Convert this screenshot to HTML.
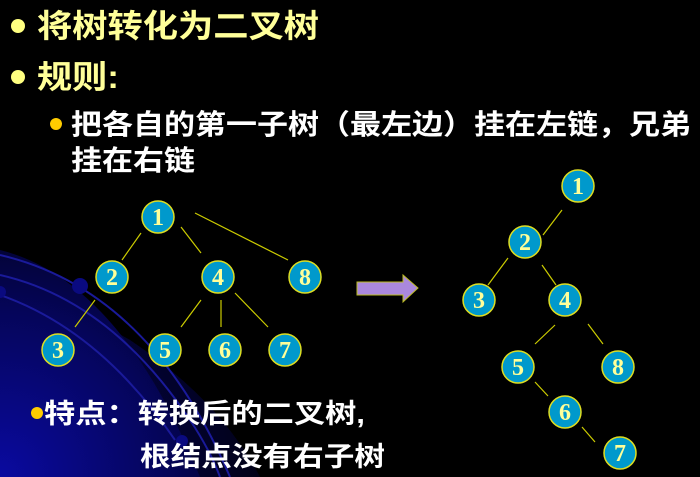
<!DOCTYPE html>
<html><head><meta charset="utf-8"><style>
html,body{margin:0;padding:0;background:#000;}
svg{display:block;}
</style></head><body>
<svg width="700" height="477" viewBox="0 0 700 477" xmlns="http://www.w3.org/2000/svg">
<defs>
<radialGradient id="bg" cx="0" cy="477" r="330" gradientUnits="userSpaceOnUse">
<stop offset="0" stop-color="#0a0aa0"/><stop offset="0.5" stop-color="#05055a"/><stop offset="1" stop-color="#000"/>
</radialGradient>
</defs>
<rect width="700" height="477" fill="#000"/>
<path d="M0 250 Q120 280 200 477 L0 477Z" fill="url(#bg)"/>
<path d="M0 280 Q60 300 130 340 Q220 400 260 477 L0 477Z" fill="url(#bg)" opacity="0.6"/>
<g fill="none" stroke="#1a1a9a" stroke-width="2">
<path d="M0 255 Q150 290 230 477"/>
<path d="M0 275 Q110 300 190 420 Q210 450 220 477"/>
<path d="M0 295 Q100 330 175 440"/>
</g>
<circle cx="80" cy="286" r="8" fill="#0a0a80"/>
<circle cx="0" cy="292" r="6" fill="#0a0a80"/>
<circle cx="182" cy="441" r="6" fill="#0a0a80"/>

<g font-family="Liberation Sans, Noto Sans CJK SC, sans-serif" font-weight="bold">
<circle cx="18" cy="26" r="7" fill="#ffff80"/>
<text x="37" y="37" font-size="32" fill="#ffff99" textLength="282" lengthAdjust="spacingAndGlyphs">将树转化为二叉树</text>
<circle cx="18" cy="77" r="7" fill="#ffff80"/>
<text x="37" y="88" font-size="32" fill="#ffff99" textLength="82" lengthAdjust="spacingAndGlyphs">规则:</text>
<circle cx="56" cy="124" r="6" fill="#ffcc00"/>
<text x="71" y="134" font-size="28" fill="#fff" textLength="620" lengthAdjust="spacingAndGlyphs">把各自的第一子树（最左边）挂在左链，兄弟</text>
<text x="71" y="170" font-size="28" fill="#fff" textLength="124" lengthAdjust="spacingAndGlyphs">挂在右链</text>
<circle cx="37" cy="413" r="6" fill="#ffcc00"/>
<text x="44" y="423" font-size="27" fill="#fff" textLength="321" lengthAdjust="spacingAndGlyphs">特点：转换后的二叉树,</text>
<text x="140" y="466" font-size="27" fill="#fff" textLength="245" lengthAdjust="spacingAndGlyphs">根结点没有右子树</text>
</g>

<g stroke="#cccc00" stroke-width="1.2">
<line x1="141" y1="233" x2="122" y2="260"/>
<line x1="181" y1="227" x2="201" y2="253"/>
<line x1="195" y1="213" x2="288" y2="260"/>
<line x1="95" y1="300" x2="75" y2="327"/>
<line x1="201" y1="300" x2="181" y2="327"/>
<line x1="221" y1="300" x2="221" y2="327"/>
<line x1="235" y1="293" x2="268" y2="327"/>
<line x1="562" y1="210" x2="543" y2="235"/>
<line x1="508" y1="258" x2="488" y2="285"/>
<line x1="542" y1="265" x2="556" y2="285"/>
<line x1="555" y1="325" x2="535" y2="344"/>
<line x1="588" y1="324" x2="603" y2="344"/>
<line x1="535" y1="382" x2="548" y2="396"/>
<line x1="582" y1="427" x2="595" y2="442"/>
</g>

<polygon points="357,282 403,282 403,275 418,288 403,302 403,295 357,295" fill="#aa88dd" stroke="#bbbb22" stroke-width="1"/>

<g font-family="Liberation Serif, serif" font-weight="bold" font-size="24" fill="#ffff99" text-anchor="middle">
<g stroke="#dddd22" stroke-width="1.5" fill="#0099cc">
<circle cx="158" cy="217" r="16"/><circle cx="112" cy="277" r="16"/><circle cx="218" cy="277" r="16"/><circle cx="305" cy="277" r="16"/>
<circle cx="58" cy="350" r="16"/><circle cx="165" cy="350" r="16"/><circle cx="225" cy="350" r="16"/><circle cx="285" cy="350" r="16"/>
<circle cx="578" cy="186" r="16"/><circle cx="525" cy="242" r="16"/><circle cx="479" cy="300" r="16"/><circle cx="565" cy="300" r="16"/>
<circle cx="518" cy="367" r="16"/><circle cx="618" cy="367" r="16"/><circle cx="565" cy="412" r="16"/><circle cx="620" cy="453" r="16"/>
</g>
<text x="158" y="225">1</text><text x="112" y="285">2</text><text x="218" y="285">4</text><text x="305" y="285">8</text>
<text x="58" y="358">3</text><text x="165" y="358">5</text><text x="225" y="358">6</text><text x="285" y="358">7</text>
<text x="578" y="194">1</text><text x="525" y="250">2</text><text x="479" y="308">3</text><text x="565" y="308">4</text>
<text x="518" y="375">5</text><text x="618" y="375">8</text><text x="565" y="420">6</text><text x="620" y="461">7</text>
</g>
</svg>
</body></html>
